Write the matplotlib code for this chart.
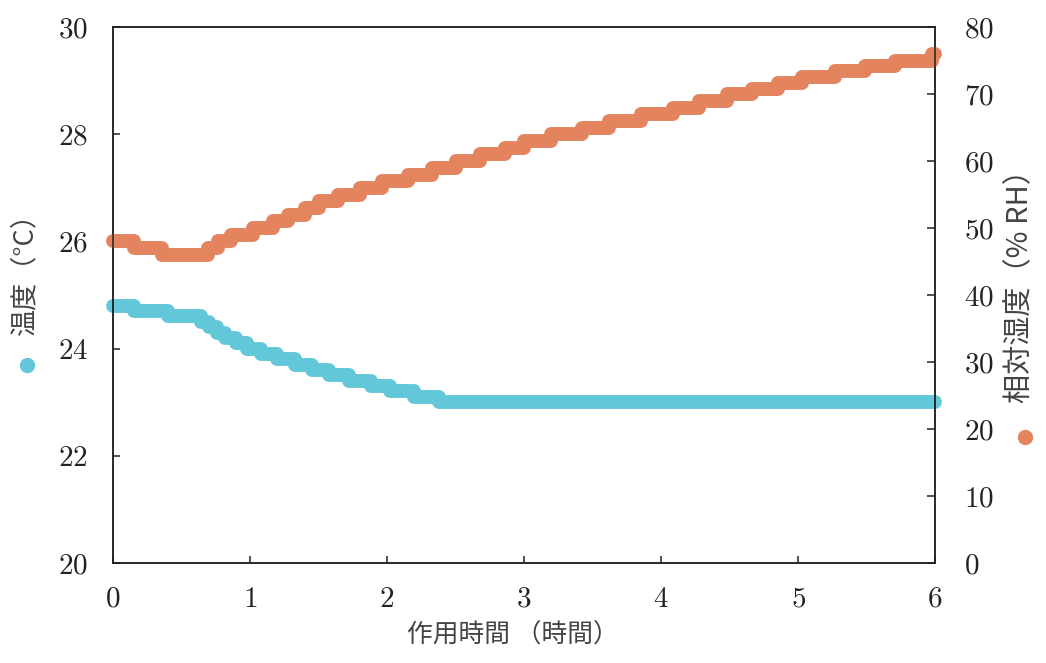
import matplotlib
matplotlib.use("Agg")
import matplotlib.pyplot as plt
import numpy as np

# 温度 (°C): step start time (h) and level
temp_t = [0.0, 0.15, 0.40, 0.64, 0.70, 0.76, 0.82, 0.90, 0.98, 1.08,
          1.20, 1.33, 1.45, 1.58, 1.72, 1.88, 2.02, 2.20, 2.38]
temp_v = [24.8, 24.7, 24.6, 24.5, 24.4, 24.3, 24.2, 24.1, 24.0, 23.9,
          23.8, 23.7, 23.6, 23.5, 23.4, 23.3, 23.2, 23.1, 23.0]

# 相対湿度 (% RH): step start time (h) and level
hum_t = [0.0, 0.15, 0.36, 0.69, 0.77, 0.86, 1.02, 1.17, 1.28, 1.40,
         1.50, 1.64, 1.80, 1.96, 2.15, 2.33, 2.50, 2.68, 2.86, 3.00,
         3.20, 3.42, 3.62, 3.85, 4.09, 4.28, 4.48, 4.66, 4.85, 5.03,
         5.27, 5.49, 5.71, 5.98]
hum_v = [48, 47, 46, 47, 48, 49, 50, 51, 52, 53,
         54, 55, 56, 57, 58, 59, 60, 61, 62, 63,
         64, 65, 66, 67, 68, 69, 70, 70.8, 71.6, 72.5,
         73.4, 74.2, 75, 76]

t_end = 6.0
x_ticks = [0, 1, 2, 3, 4, 5, 6]
temp_ticks = [20, 22, 24, 26, 28, 30]
hum_ticks = [0, 10, 20, 30, 40, 50, 60, 70, 80]

cyan = "#63c7da"
orange = "#e3845f"
cjk = ["Noto Sans CJK JP", "DejaVu Sans"]

plt.rcParams["font.family"] = "cmr10"
plt.rcParams["axes.formatter.use_mathtext"] = True

fig = plt.figure(figsize=(10.46, 6.63), dpi=100)
ax = fig.add_axes([0.108, 0.151, 0.786, 0.808])
ax2 = ax.twinx()

band = dict(drawstyle="steps-post", linewidth=10, solid_capstyle="round",
            solid_joinstyle="round", clip_on=False)
ax.plot(np.append(temp_t, t_end), np.append(temp_v, temp_v[-1]),
        color=cyan, **band)
ax2.plot(np.append(hum_t, t_end), np.append(hum_v, hum_v[-1]),
         color=orange, **band)

ax.set_xlim(0, 6)
ax.set_ylim(20, 30)
ax2.set_ylim(0, 80)
ax.set_xticks(x_ticks)
ax.set_yticks(temp_ticks)
ax2.set_yticks(hum_ticks)

for a in (ax, ax2):
    for s in a.spines.values():
        s.set_linewidth(1.1)
        s.set_color("#222222")
ax.tick_params(axis="x", direction="in", length=5, width=1.1,
               labelsize=21, pad=17, colors="#222222")
ax.tick_params(axis="y", direction="in", length=5, width=1.1,
               labelsize=21, pad=18, colors="#222222")
ax2.tick_params(axis="y", direction="in", length=6, width=1.1,
                labelsize=21, pad=21, colors="#222222")

# axis titles with coloured dots
ax.text(0.487, -0.135, "作用時間 （時間）", transform=ax.transAxes,
        ha="center", va="center", fontsize=18.5, color="#444444", family=cjk)
ax.text(-0.107, 0.55, "温度（°C）", transform=ax.transAxes, rotation=90,
        ha="center", va="center", fontsize=19.5, color="#444444", family=cjk)
ax.plot([-0.105], [0.370], "o", ms=10, color=cyan, transform=ax.transAxes,
        clip_on=False)
ax.text(1.104, 0.53, "相対湿度（% RH）", transform=ax.transAxes, rotation=90,
        ha="center", va="center", fontsize=21, color="#444444", family=cjk)
ax.plot([1.109], [0.235], "o", ms=10, color=orange, transform=ax.transAxes,
        clip_on=False)

fig.savefig("out.png", dpi=100)
